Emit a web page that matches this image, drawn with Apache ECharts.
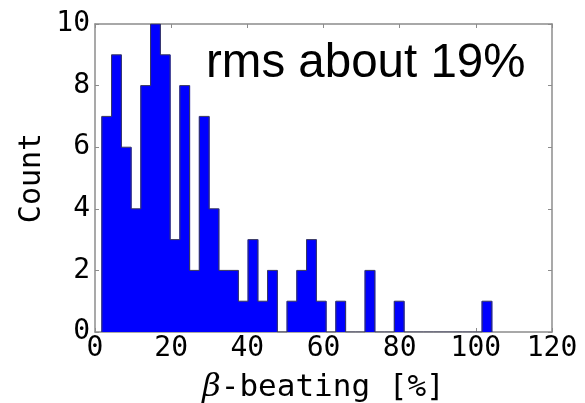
<!DOCTYPE html>
<html>
<head>
<meta charset="utf-8">
<script src="https://cdn.jsdelivr.net/npm/echarts@6/dist/echarts.min.js"></script>
<style>
  html, body { margin: 0; padding: 0; background: #fff; }
  #chart { width: 585px; height: 403px; }
</style>
</head>
<body>
<div id="chart"></div>
<script>
// Histogram of beta-beating values: 40 bins from 1.8 % to 104.2 %
const binStart = 1.8;
const binWidth = 2.56;
const counts = [7, 9, 6, 4, 8, 10, 9, 3, 8, 2,
                7, 4, 2, 2, 1, 3, 1, 2, 0, 1,
                2, 3, 1, 0, 1, 0, 0, 2, 0, 0,
                1, 0, 0, 0, 0, 0, 0, 0, 0, 1];
const xTicks = [0, 20, 40, 60, 80, 100, 120];
const yTicks = [0, 2, 4, 6, 8, 10];
const annotation = 'rms about 19%';

// bin data: [left edge, right edge, count]
const bins = counts.map((c, i) => [binStart + i * binWidth, binStart + (i + 1) * binWidth, c]);

// outline of the filled step shape
const outline = [[bins[0][0], 0]];
bins.forEach(b => { outline.push([b[0], b[2]]); outline.push([b[1], b[2]]); });
outline.push([bins[bins.length - 1][1], 0]);

const mono = 'DejaVu Sans Mono';
const frame = '#8c8c8c';

const chart = echarts.init(document.getElementById('chart'), null, { renderer: 'canvas' });

const axisCommon = {
  type: 'value',
  axisLine: { show: true, onZero: false, lineStyle: { color: frame, width: 1.5 } },
  axisTick: { show: true, inside: true, length: 4, lineStyle: { color: frame, width: 1 } },
  splitLine: { show: false }
};

chart.setOption({
  animation: false,
  grid: { left: 95, right: 33, top: 24, bottom: 71, outerBoundsMode: 'none', containLabel: false },
  xAxis: [
    Object.assign({}, axisCommon, {
      min: xTicks[0], max: xTicks[xTicks.length - 1], interval: 20,
      position: 'bottom',
      axisLabel: { show: true, color: '#000', fontFamily: mono, fontSize: 28, margin: 3,
                   formatter: v => xTicks.includes(v) ? String(v) : '' },
      name: '{b|β}-beating [%]',
      nameLocation: 'middle',
      nameGap: 40,
      nameTextStyle: {
        color: '#000', fontFamily: mono, fontSize: 31,
        rich: { b: { fontFamily: 'DejaVu Serif', fontStyle: 'italic', fontSize: 32, color: '#000' } }
      }
    }),
    Object.assign({}, axisCommon, {
      min: xTicks[0], max: xTicks[xTicks.length - 1], interval: 20,
      position: 'top', axisLabel: { show: false }
    })
  ],
  yAxis: [
    Object.assign({}, axisCommon, {
      min: yTicks[0], max: yTicks[yTicks.length - 1], interval: 2,
      position: 'left',
      axisLabel: { show: true, color: '#000', fontFamily: mono, fontSize: 28, margin: 5,
                   formatter: v => yTicks.includes(v) ? String(v) : '' },
      name: 'Count',
      nameLocation: 'middle',
      nameGap: 48,
      nameMoveOverlap: false,
      nameRotate: 90,
      nameTextStyle: { color: '#000', fontFamily: mono, fontSize: 30 }
    }),
    Object.assign({}, axisCommon, {
      min: yTicks[0], max: yTicks[yTicks.length - 1], interval: 2,
      position: 'right', axisLabel: { show: false }
    })
  ],
  series: [
    {
      type: 'custom',
      xAxisIndex: 0, yAxisIndex: 0,
      data: bins,
      encode: { x: [0, 1], y: 2 },
      renderItem: (params, api) => {
        const c = api.value(2);
        if (!c) return null;
        const p0 = api.coord([api.value(0), c]);
        const p1 = api.coord([api.value(1), 0]);
        // slight overlap so neighbouring bins merge without seams
        return {
          type: 'rect',
          shape: { x: p0[0] - 0.5, y: p0[1], width: p1[0] - p0[0] + 1, height: p1[1] - p0[1] },
          style: { fill: '#0000ff' }
        };
      },
      z: 2
    },
    {
      type: 'line',
      xAxisIndex: 0, yAxisIndex: 0,
      data: outline,
      symbol: 'none',
      lineStyle: { color: '#3a3a5a', width: 1 },
      z: 3
    }
  ],
  graphic: [
    {
      type: 'text',
      left: 206, top: 40,
      style: { text: annotation, fill: '#000', font: '47.5px "Liberation Sans", Arial, sans-serif' },
      z: 10
    }
  ]
});
</script>
</body>
</html>
